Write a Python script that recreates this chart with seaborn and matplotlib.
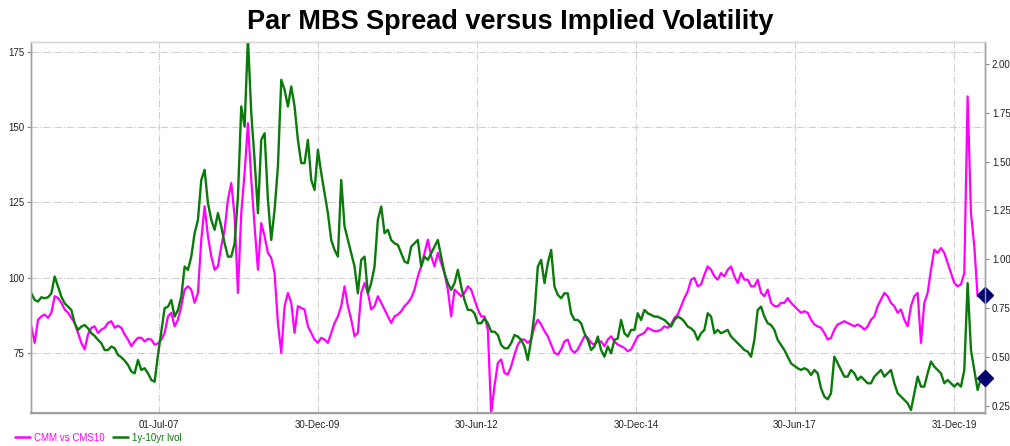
import pandas as pd
import matplotlib
matplotlib.use('Agg')
import matplotlib.pyplot as plt
import matplotlib.dates as mdates
from matplotlib.lines import Line2D
import seaborn as sns

# Observation window (roughly every 19 days)
start_date = '2005-06-29'
end_date = '2020-06-02'

# CMM vs CMS10 spread, bp (left axis)
spread = [
    83.8, 78.3, 86.0, 87.1, 87.7, 86.6, 88.3, 93.8, 93.2, 91.6, 89.4, 88.3, 86.6, 84.9, 81.6, 78.3, 76.1, 81.1, 83.3, 83.8,
    81.6, 82.7, 83.3, 84.9, 85.5, 83.3, 84.0, 83.3, 81.1, 79.4, 77.2, 78.8, 80.0, 80.0, 78.8, 79.6, 79.4, 77.7, 78.1, 79.4, 81.6,
    87.1, 88.3, 83.8, 86.0, 90.5, 96.0, 97.1, 96.0, 91.6, 94.9, 112.6, 123.7, 113.7, 107.1, 102.6, 103.7, 110.4, 115.9, 125.9, 131.4,
    120.3, 94.9, 121.5, 134.7, 151.3, 132.5, 117.0, 102.6, 118.1, 113.7, 108.2, 106.5, 101.5, 84.9, 75.0, 90.5, 94.9, 91.6, 81.6, 90.5, 89.9,
    89.4, 83.8, 81.6, 79.4, 78.3, 80.0, 79.4, 78.3, 81.6, 84.9, 87.1, 90.5, 97.1, 90.5, 86.0, 80.5, 81.6, 94.9, 98.2, 94.9,
    89.4, 90.5, 93.8, 91.6, 89.4, 87.1, 84.9, 87.1, 87.7, 88.8, 90.5, 91.6, 93.2, 96.0, 100.4, 103.7, 108.2, 112.6, 107.1, 103.7, 108.2,
    104.9, 101.5, 96.0, 87.1, 96.0, 94.9, 93.8, 94.9, 97.1, 96.0, 92.7, 89.4, 87.1, 87.1, 82.7, 55.0, 63.9, 71.6, 72.8, 68.3,
    67.8, 70.5, 74.4, 77.7, 79.4, 79.4, 78.3, 79.4, 83.8, 86.0, 84.4, 82.2, 80.5, 77.7, 75.0, 74.4, 76.1, 78.8, 79.4, 76.1, 75.0,
    76.1, 78.3, 80.5, 80.0, 78.3, 77.7, 78.8, 78.8, 77.2, 79.4, 80.5, 78.8, 77.7, 77.2, 76.6, 75.5, 76.1, 78.3, 80.5, 81.1,
    81.6, 83.3, 82.7, 82.2, 82.2, 82.7, 83.8, 83.3, 84.4, 86.6, 87.7, 90.5, 93.2, 95.4, 99.3, 99.9, 97.1, 97.7, 101.0, 103.7,
    102.6, 100.4, 99.3, 101.5, 100.4, 102.6, 103.7, 100.4, 98.2, 101.5, 99.3, 99.3, 97.1, 97.1, 99.3, 94.9, 93.8, 96.0, 91.6, 90.5,
    90.5, 91.6, 91.6, 93.2, 91.6, 90.5, 89.4, 88.3, 88.8, 88.3, 86.0, 84.4, 83.8, 83.3, 81.6, 79.4, 80.0, 82.7, 84.4, 84.9, 85.5,
    84.9, 84.4, 83.8, 84.4, 83.8, 82.7, 83.8, 86.0, 87.1, 90.5, 92.7, 94.9, 93.8, 91.6, 90.5, 88.3, 89.4, 86.0, 83.8, 90.5,
    93.8, 94.9, 78.3, 91.6, 94.9, 102.6, 109.3, 108.2, 109.8, 108.2, 104.9, 101.5, 98.2, 97.1, 97.7, 101.5, 160.2, 121.5, 110.4, 93.8, 94.3,
]

# 1y-10yr implied vol (right axis)
vol = [
    0.826, 0.792, 0.784, 0.806, 0.801, 0.806, 0.826, 0.912, 0.861, 0.809, 0.775, 0.758, 0.741, 0.673, 0.639, 0.656, 0.664, 0.647, 0.622, 0.608,
    0.588, 0.571, 0.536, 0.536, 0.554, 0.545, 0.511, 0.499, 0.482, 0.460, 0.426, 0.417, 0.485, 0.434, 0.443, 0.417, 0.383, 0.374, 0.511, 0.630, 0.750,
    0.758, 0.792, 0.707, 0.741, 0.809, 0.963, 0.946, 1.014, 1.134, 1.202, 1.406, 1.458, 1.287, 1.202, 1.151, 1.236, 1.168, 1.082, 1.014, 1.014,
    1.082, 1.321, 1.782, 1.679, 2.130, 1.748, 1.509, 1.236, 1.611, 1.645, 1.304, 1.099, 1.253, 1.475, 1.918, 1.867, 1.782, 1.884, 1.782, 1.611, 1.492,
    1.492, 1.611, 1.406, 1.355, 1.560, 1.441, 1.338, 1.236, 1.099, 1.048, 1.014, 1.406, 1.168, 1.099, 1.031, 0.963, 0.826, 0.997, 1.014, 0.826,
    0.878, 0.963, 1.202, 1.270, 1.134, 1.151, 1.099, 1.082, 1.074, 1.031, 0.989, 0.980, 1.065, 1.082, 1.099, 0.963, 1.014, 0.997, 1.031, 1.065, 1.099,
    1.014, 0.929, 0.878, 0.844, 0.878, 0.946, 0.861, 0.792, 0.741, 0.741, 0.724, 0.673, 0.673, 0.698, 0.673, 0.630, 0.630, 0.613, 0.562, 0.545,
    0.545, 0.571, 0.613, 0.605, 0.588, 0.554, 0.485, 0.588, 0.724, 0.963, 0.997, 0.878, 0.980, 1.048, 0.861, 0.818, 0.801, 0.826, 0.826, 0.724, 0.690,
    0.690, 0.673, 0.622, 0.588, 0.536, 0.554, 0.605, 0.536, 0.502, 0.554, 0.519, 0.588, 0.596, 0.690, 0.622, 0.605, 0.639, 0.639, 0.724, 0.690,
    0.741, 0.724, 0.716, 0.707, 0.707, 0.698, 0.690, 0.673, 0.656, 0.690, 0.707, 0.698, 0.681, 0.656, 0.647, 0.630, 0.588, 0.622, 0.639, 0.724,
    0.707, 0.622, 0.639, 0.622, 0.630, 0.639, 0.605, 0.588, 0.571, 0.554, 0.536, 0.528, 0.502, 0.588, 0.741, 0.758, 0.707, 0.673, 0.664, 0.639,
    0.588, 0.562, 0.536, 0.502, 0.468, 0.455, 0.443, 0.434, 0.443, 0.434, 0.408, 0.434, 0.417, 0.340, 0.298, 0.284, 0.315, 0.502, 0.468, 0.434, 0.400,
    0.400, 0.434, 0.417, 0.383, 0.400, 0.383, 0.366, 0.366, 0.400, 0.417, 0.434, 0.400, 0.417, 0.434, 0.366, 0.315, 0.298, 0.281, 0.264, 0.229,
    0.315, 0.400, 0.349, 0.349, 0.417, 0.477, 0.451, 0.434, 0.417, 0.366, 0.383, 0.366, 0.349, 0.366, 0.349, 0.434, 0.878, 0.536, 0.434, 0.332, 0.392,
]

tick_dates = ['2007-07-01', '2009-12-30', '2012-06-30', '2014-12-30', '2017-06-30', '2019-12-31']
left_ticks = [75, 100, 125, 150, 175]
right_ticks = [0.25, 0.50, 0.75, 1.00, 1.25, 1.50, 1.75, 2.00]

magenta = '#ff00ff'
green = '#0a7a0a'
navy = '#000070'

dates = pd.date_range(start_date, end_date, periods=len(spread))
df = pd.DataFrame({'Date': dates, 'Spread': spread, 'Vol': vol})

sns.set_style('white')
plt.rcParams['font.family'] = ['Liberation Sans', 'DejaVu Sans']

fig = plt.figure(figsize=(10.10, 4.46), dpi=100)
ax = fig.add_axes([0.0307, 0.074, 0.9445, 0.832])
ax2 = ax.twinx()

sns.lineplot(data=df, x='Date', y='Spread', ax=ax, color=magenta, lw=1.6)
sns.lineplot(data=df, x='Date', y='Vol', ax=ax2, color=green, lw=1.7)

# last-value diamonds on the right edge
ax.plot([1.0], [spread[-1]], marker='D', ms=8.5, color=navy, transform=ax.get_yaxis_transform(),
        clip_on=False, zorder=10)
ax2.plot([1.0], [vol[-1]], marker='D', ms=8.5, color=navy, transform=ax2.get_yaxis_transform(),
         clip_on=False, zorder=10)

ax.set_xlim(pd.Timestamp('2005-06-27'), pd.Timestamp('2020-06-25'))
ax.set_ylim(55, 178.3)
ax2.set_ylim(0.214, 2.112)

ax.set_xticks(pd.to_datetime(tick_dates))
ax.xaxis.set_major_formatter(mdates.DateFormatter('%d-%b-%y'))
ax.set_yticks(left_ticks)
ax2.set_yticks(right_ticks)
ax2.set_yticklabels([f'{t:.2f}' for t in right_ticks])

for a in (ax, ax2):
    a.set_xlabel('')
    a.set_ylabel('')
    a.tick_params(labelsize=7, colors='#222222', length=3, width=0.8, pad=2)
    for s in a.spines.values():
        s.set_color('#a0a0a0')
        s.set_linewidth(1.0)
    a.spines['top'].set_color('#d8d8d8')
ax.tick_params(axis='both', color='#888888')
ax2.tick_params(axis='y', color='#888888')
ax.spines['bottom'].set_linewidth(1.5)

ax.grid(True, color='#d0d0d0', linestyle='-.', linewidth=0.8)
ax2.grid(False)
ax.set_axisbelow(True)

fig.text(0.505, 0.951, 'Par MBS Spread versus Implied Volatility', ha='center', va='center',
         fontsize=19.5, fontweight='bold', color='black')

handles = [Line2D([], [], color=magenta, lw=1.8), Line2D([], [], color=green, lw=1.8)]
fig.legend(handles, ['CMM vs CMS10', '1y-10yr lvol'], loc='lower left', bbox_to_anchor=(0.006, -0.012),
           ncol=2, frameon=False, fontsize=7, handlelength=1.6, handletextpad=0.4,
           columnspacing=0.8, labelcolor='linecolor')

fig.savefig('out.png', dpi=100)
